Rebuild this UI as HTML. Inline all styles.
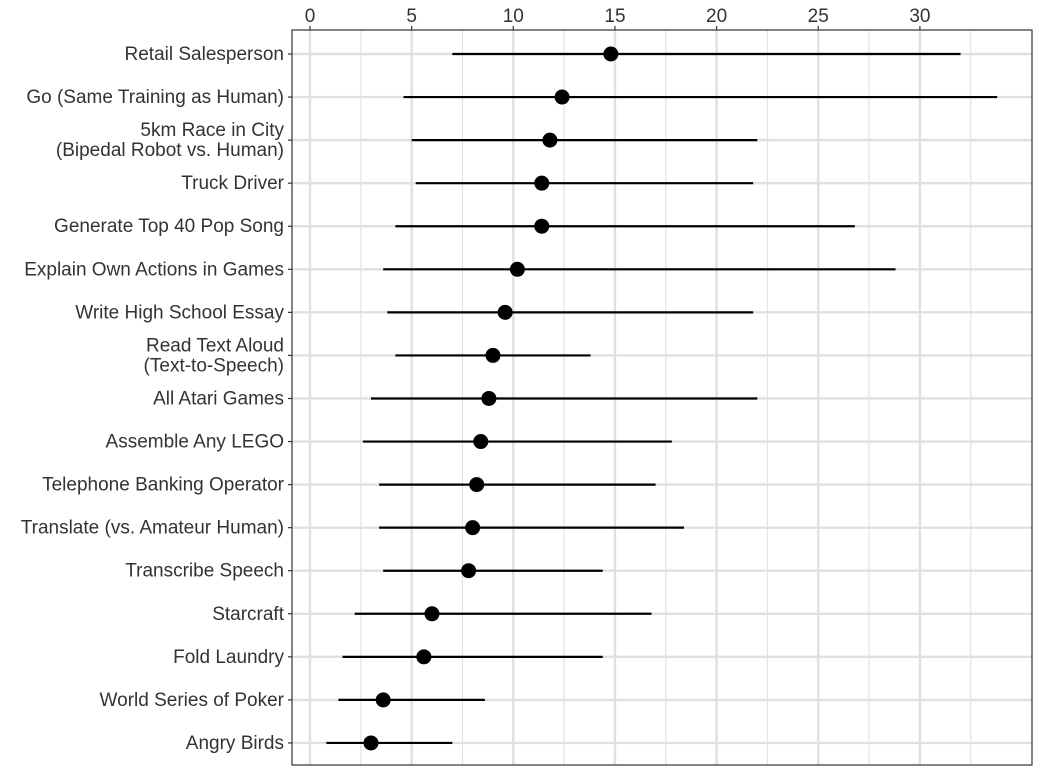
<!DOCTYPE html>
<html><head><meta charset="utf-8"><style>
body{margin:0;background:#fff;font-family:"Liberation Sans",Arial,sans-serif}
svg text{font-family:"Liberation Sans",Arial,sans-serif;fill:#333}
</style></head><body>
<svg id="chart" width="1046" height="776"></svg>
<script>
const categories=["Retail Salesperson","Go (Same Training as Human)","5km Race in City|(Bipedal Robot vs. Human)","Truck Driver","Generate Top 40 Pop Song","Explain Own Actions in Games","Write High School Essay","Read Text Aloud|(Text-to-Speech)","All Atari Games","Assemble Any LEGO","Telephone Banking Operator","Translate (vs. Amateur Human)","Transcribe Speech","Starcraft","Fold Laundry","World Series of Poker","Angry Birds"];
const medians=[14.8,12.4,11.8,11.4,11.4,10.2,9.6,9.0,8.8,8.4,8.2,8.0,7.8,6.0,5.6,3.6,3.0];
const lows=[7.0,4.6,5.0,5.2,4.2,3.6,3.8,4.2,3.0,2.6,3.4,3.4,3.6,2.2,1.6,1.4,0.8];
const highs=[32.0,33.8,22.0,21.8,26.8,28.8,21.8,13.8,22.0,17.8,17.0,18.4,14.4,16.8,14.4,8.6,7.0];
const ticks=[0,5,10,15,20,25,30];
const NS="http://www.w3.org/2000/svg",svg=document.getElementById('chart');
const L=292,R=1032,T=30,B=765;
const x=v=>310+v*20.33;
const y=i=>54+i*43.06;
function el(t,a,p){const e=document.createElementNS(NS,t);for(const k in a)e.setAttribute(k,a[k]);(p||svg).appendChild(e);return e;}
const panel=el('rect',{x:L,y:T,width:R-L,height:B-T,fill:'#fff'});


for(let v=2.5;x(v)<R;v+=5){const g=el('line',{x1:x(v),x2:x(v),y1:T,y2:B,stroke:'#e3e3e3','stroke-width':1.2});

}
categories.forEach((c,i)=>{const g=el('line',{x1:L,x2:R,y1:y(i),y2:y(i),stroke:'#e0e0e0','stroke-width':2.4});

});
ticks.forEach(t=>{const g=el('line',{x1:x(t),x2:x(t),y1:T,y2:B,stroke:'#e0e0e0','stroke-width':2.4});


const k=el('line',{x1:x(t),x2:x(t),y1:T-4,y2:T,stroke:'#333','stroke-width':1.2});


const lb=el('text',{x:x(t),y:T-8,'text-anchor':'middle','font-size':19});lb.textContent=t;

});
categories.forEach((c,i)=>{
const k=el('line',{x1:L-4,x2:L,y1:y(i),y2:y(i),stroke:'#333','stroke-width':1.2});


const parts=c.split('|');
const lb=el('text',{x:L-8,y:parts.length>1?y(i)-4:y(i)+6,'text-anchor':'end','font-size':19});


parts.forEach((p,j)=>{const ts=el('tspan',{x:L-8,dy:j?20:0},lb);ts.textContent=p;});
const ln=el('line',{x1:x(lows[i]),x2:x(highs[i]),y1:y(i),y2:y(i),stroke:'#000','stroke-width':2.2});


const pt=el('circle',{cx:x(medians[i]),cy:y(i),r:7.5,fill:'#000'});


});
const bd=el('rect',{x:L,y:T,width:R-L,height:B-T,fill:'none',stroke:'#333','stroke-width':1.2});


</script>
</body></html>
